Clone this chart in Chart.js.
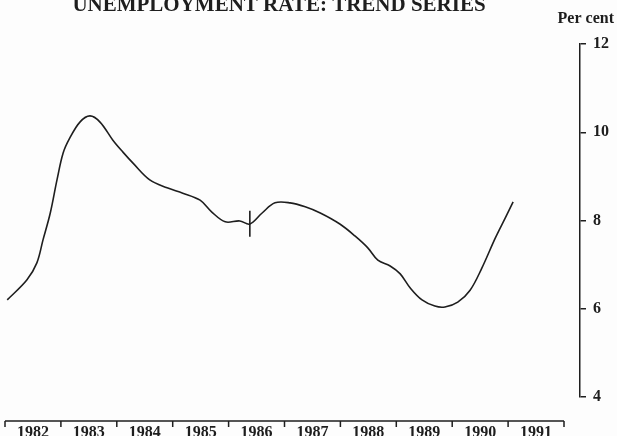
<!DOCTYPE html>
<html>
<head>
<meta charset="utf-8">
<script src="https://cdn.jsdelivr.net/npm/chart.js@4"></script>
<style>
  html, body { margin: 0; padding: 0; background: #fdfdfd; }
  #wrap { width: 617px; height: 436px; }
</style>
</head>
<body>
<div id="wrap"><canvas id="rateChart" width="617" height="436"></canvas></div>
<script>
// Trend series (decimal year, per cent)
const years = [
  1982.04, 1982.39, 1982.57, 1982.68, 1982.81, 1982.93, 1983.04, 1983.16,
  1983.34, 1983.52, 1983.70, 1983.93, 1984.11, 1984.29, 1984.59, 1984.90,
  1985.18, 1985.49, 1985.70, 1985.94, 1986.20, 1986.38, 1986.60, 1986.83,
  1987.10, 1987.37, 1987.64, 1987.99, 1988.26, 1988.49, 1988.67, 1988.89,
  1989.07, 1989.25, 1989.46, 1989.69, 1989.87, 1990.10, 1990.32, 1990.53,
  1990.77, 1990.95, 1991.09,
];
const rates = [
  6.20, 6.65, 7.04, 7.56, 8.17, 8.92, 9.53, 9.87,
  10.23, 10.37, 10.23, 9.82, 9.55, 9.30, 8.92, 8.74,
  8.62, 8.46, 8.19, 7.97, 7.99, 7.92, 8.17, 8.40,
  8.40, 8.31, 8.17, 7.92, 7.65, 7.38, 7.10, 6.97,
  6.79, 6.47, 6.20, 6.06, 6.04, 6.15, 6.42, 6.92,
  7.60, 8.06, 8.42,
];
// break in series marker
const breakYear = [1986.38, 1986.38];
const breakRange = [7.63, 8.22];

const yearLabels = ["1982", "1983", "1984", "1985", "1986", "1987", "1988", "1989", "1990", "1991"];
const yTicks = [4, 6, 8, 10, 12];

const ink = "#1e1e1e";
const serif = "'Liberation Serif', 'DejaVu Serif', serif";

// title, unit label and the year bar under the plot
const decorations = {
  id: "decorations",
  afterDraw(chart) {
    const ctx = chart.ctx;
    const x = chart.scales.x;
    ctx.save();
    ctx.fillStyle = ink;
    ctx.strokeStyle = ink;

    ctx.font = "bold 21px " + serif;
    ctx.textAlign = "center";
    ctx.textBaseline = "alphabetic";
    ctx.fillText("UNEMPLOYMENT RATE: TREND SERIES", 279, 11);

    ctx.font = "bold 16px " + serif;
    ctx.textAlign = "right";
    ctx.fillText("Per cent", 614, 23);

    // year bar
    const first = Number(yearLabels[0]);
    const last = Number(yearLabels[yearLabels.length - 1]) + 1;
    const lineY = 421;
    ctx.lineWidth = 1.5;
    ctx.beginPath();
    ctx.moveTo(x.getPixelForValue(first), lineY);
    ctx.lineTo(x.getPixelForValue(last), lineY);
    for (let yr = first; yr <= last; yr++) {
      const px = x.getPixelForValue(yr);
      ctx.moveTo(px, lineY);
      ctx.lineTo(px, lineY + 6);
    }
    ctx.stroke();

    ctx.textAlign = "center";
    ctx.font = "bold 16px " + serif;
    yearLabels.forEach((lab) => {
      ctx.fillText(lab, x.getPixelForValue(Number(lab) + 0.5), 437);
    });
    ctx.restore();
  },
};

const ctx = document.getElementById("rateChart").getContext("2d");
new Chart(ctx, {
  type: "line",
  data: {
    datasets: [
      {
        label: "Trend",
        data: years.map((yr, i) => ({ x: yr, y: rates[i] })),
        borderColor: ink,
        borderWidth: 1.6,
        pointRadius: 0,
        tension: 0.35,
        fill: false,
      },
      {
        label: "Break",
        data: breakYear.map((yr, i) => ({ x: yr, y: breakRange[i] })),
        borderColor: ink,
        borderWidth: 1.6,
        pointRadius: 0,
        fill: false,
      },
    ],
  },
  options: {
    responsive: false,
    animation: false,
    layout: { padding: { left: 5, top: 44, right: 0, bottom: 39 } },
    plugins: {
      legend: { display: false },
      tooltip: { enabled: false },
    },
    scales: {
      x: {
        type: "linear",
        display: false,
        min: 1982,
        max: 1982 + (575 * 10) / 559, // axis on the right sits a little past 1991
      },
      y: {
        position: "right",
        min: 4,
        max: 12,
        afterBuildTicks: (scale) => {
          scale.ticks = yTicks.map((v) => ({ value: v }));
        },
        afterFit: (scale) => {
          scale.width = 37;
        },
        border: { display: true, color: ink, width: 1.5 },
        grid: {
          drawOnChartArea: false,
          drawTicks: true,
          tickLength: 6,
          color: ink,
          lineWidth: 1.5,
        },
        ticks: {
          padding: 7,
          color: ink,
          font: { family: serif, size: 16, weight: "bold" },
        },
      },
    },
  },
  plugins: [decorations],
});
</script>
</body>
</html>
